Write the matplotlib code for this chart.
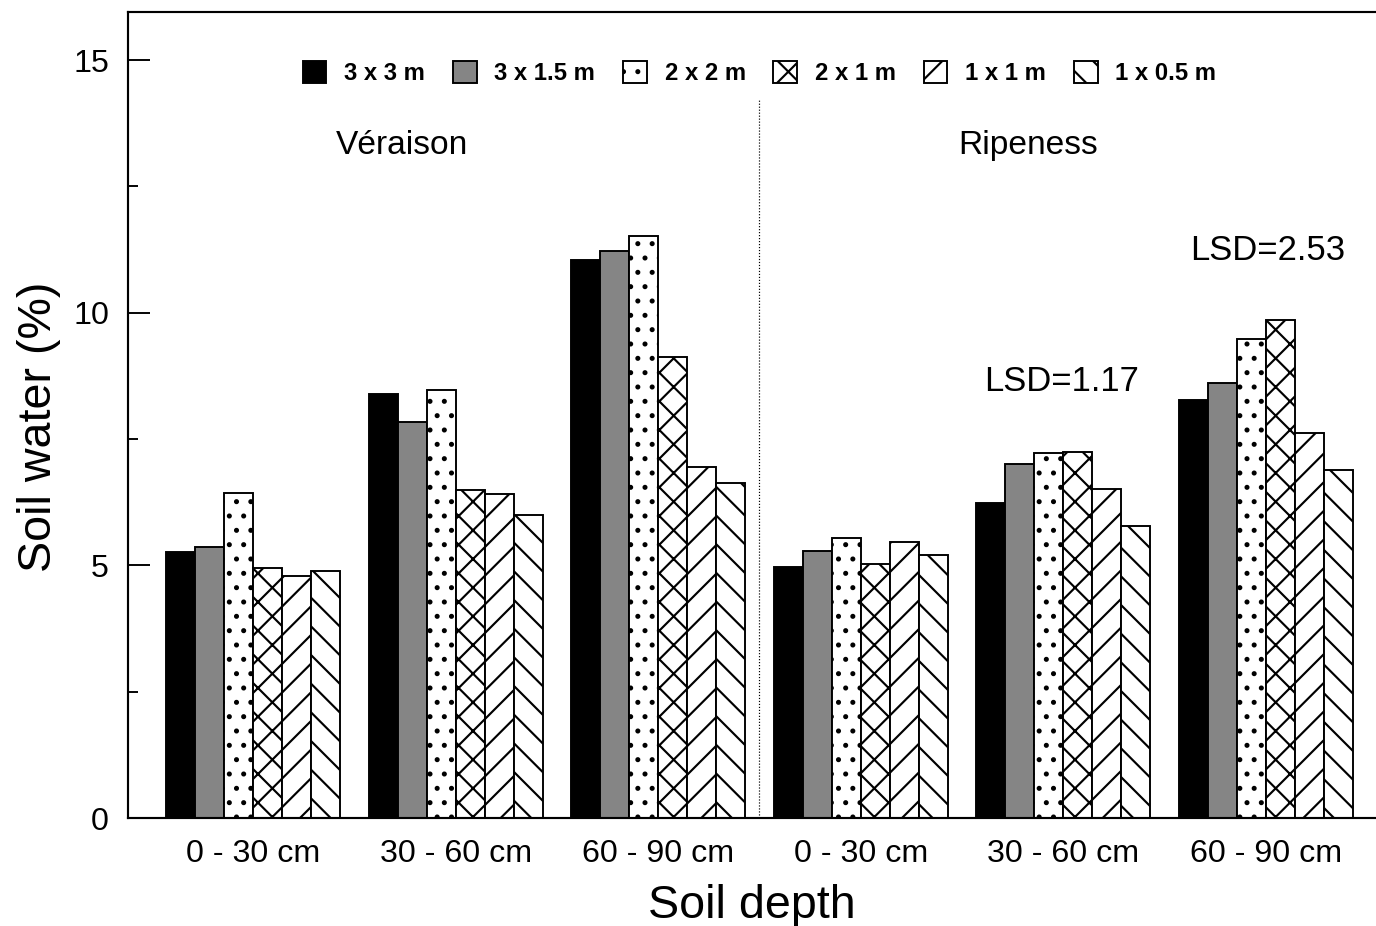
#!/usr/bin/env python3
''' Soil water by depth for six vine spacings, at veraison and at ripeness. '''
import numpy as np
import matplotlib
matplotlib.use('Agg')
import matplotlib.pyplot as plt

plt.rcParams['font.family'] = ['Liberation Sans', 'DejaVu Sans']
plt.rcParams['hatch.linewidth'] = 0.9

depths = ['0 - 30 cm', '30 - 60 cm', '60 - 90 cm', '0 - 30 cm', '30 - 60 cm', '60 - 90 cm']
spacings = ['3 x 3 m', '3 x 1.5 m', '2 x 2 m', '2 x 1 m', '1 x 1 m', '1 x 0.5 m']

# soil water (%) per spacing, one value per depth group (veraison x3, ripeness x3)
w_3x3 = [5.27, 8.40, 11.05, 4.97, 6.24, 8.28]
w_3x15 = [5.36, 7.84, 11.23, 5.29, 7.01, 8.61]
w_2x2 = [6.44, 8.46, 11.52, 5.54, 7.23, 9.47]
w_2x1 = [4.95, 6.50, 9.13, 5.03, 7.25, 9.86]
w_1x1 = [4.79, 6.42, 6.95, 5.46, 6.52, 7.62]
w_1x05 = [4.88, 6.00, 6.63, 5.21, 5.78, 6.89]

stages = ['Véraison', 'Ripeness']
lsd_labels = ['LSD=1.17', 'LSD=2.53']

series = [w_3x3, w_3x15, w_2x2, w_2x1, w_1x1, w_1x05]
styles = [
  dict(facecolor='black', hatch=None),
  dict(facecolor='0.52', hatch=None),
  dict(facecolor='white', hatch='..'),
  dict(facecolor='white', hatch='xx'),
  dict(facecolor='white', hatch='//'),
  dict(facecolor='white', hatch='\\\\'),
]

dpi = 172
fig = plt.figure(figsize=(1376 / dpi, 926 / dpi), dpi=dpi)
ax = fig.add_axes([128 / 1376, 1 - 818 / 926, 1 - 128 / 1376, (818 - 12) / 926])

x = np.arange(len(depths))
width = 0.143
for i, (vals, st) in enumerate(zip(series, styles)):
  ax.bar(x + (i - 2.5) * width, vals, width, label=spacings[i],
         facecolor=st['facecolor'], hatch=st['hatch'], edgecolor='black', linewidth=0.8)

# divider between the two sampling dates
ax.plot([2.5, 2.5], [0, 14.2], color='black', linestyle=(0, (1, 1.5)), linewidth=0.5)

ax.text(0.735, 13.3, stages[0], ha='center', va='center', fontsize=14)
ax.text(3.825, 13.3, stages[1], ha='center', va='center', fontsize=14)
ax.text(3.99, 8.63, lsd_labels[0], ha='center', va='center', fontsize=14.5)
ax.text(5.01, 11.24, lsd_labels[1], ha='center', va='center', fontsize=14.5)

ax.set_xlim(-0.617, 5.543)
ax.set_ylim(0, 15.95)
ax.set_xticks(x)
ax.set_xticklabels(depths, fontsize=13.5)
ax.set_yticks([0, 5, 10, 15])
ax.set_yticks([2.5, 7.5, 12.5], minor=True)
ax.tick_params(axis='y', which='major', direction='in', length=9, width=0.8, labelsize=13.5, pad=8)
ax.tick_params(axis='y', which='minor', direction='in', length=4, width=0.8)
ax.tick_params(axis='x', length=0, pad=9)
ax.spines['right'].set_visible(False)
for s in ['left', 'top', 'bottom']:
  ax.spines[s].set_linewidth(0.9)

ax.set_ylabel('Soil water (%)', fontsize=19.5)
ax.yaxis.set_label_coords(-0.054, 0.485)
ax.set_xlabel('Soil depth', fontsize=19.5, labelpad=6)

leg = ax.legend(loc='center', bbox_to_anchor=(0.506, 0.924), ncol=6, frameon=False,
                prop=dict(size=10, weight='bold'), handlelength=1.0, handleheight=1.0,
                columnspacing=1.15, handletextpad=0.75)

fig.savefig('out.png', dpi=dpi)
